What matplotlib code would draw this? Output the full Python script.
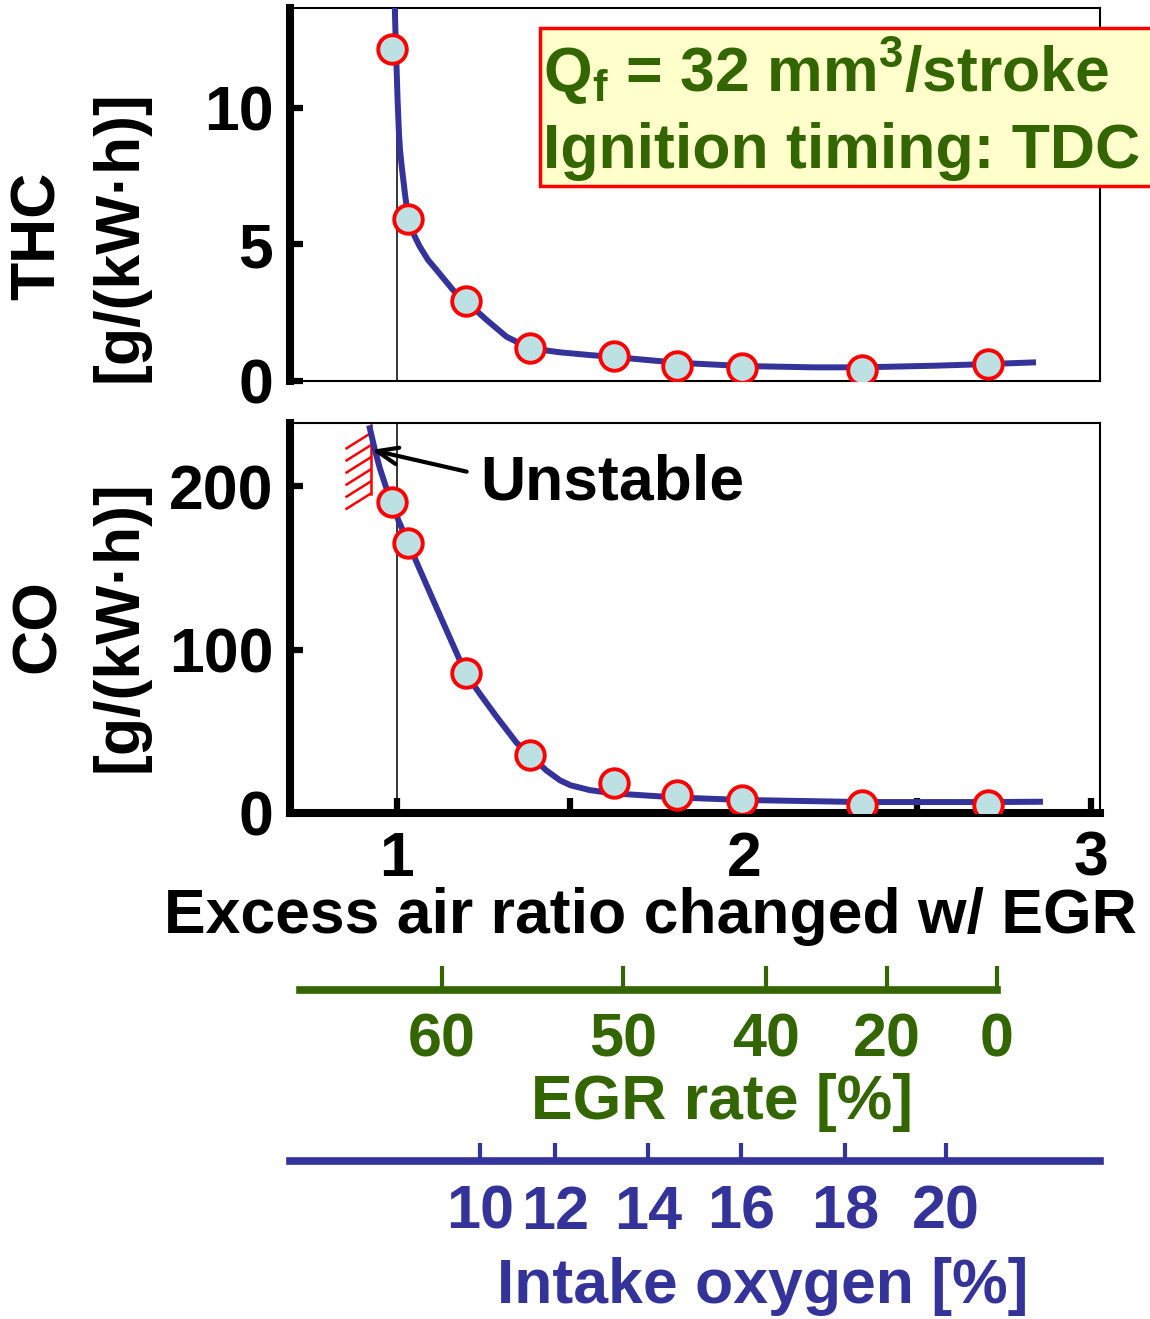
import matplotlib

matplotlib.use("Agg")
import matplotlib.pyplot as plt
from matplotlib.patches import Rectangle

# measured points (excess air ratio lambda)
LAMBDA_PTS = [0.986, 1.033, 1.198, 1.383, 1.625, 1.806, 1.995, 2.339, 2.704]
THC_PTS = [12.16, 5.92, 2.93, 1.20, 0.93, 0.55, 0.49, 0.40, 0.61]
CO_PTS = [190.6, 165.2, 85.5, 35.5, 18.2, 11.0, 8.0, 4.9, 4.9]

# hand-drawn trend curves
THC_FIT_LAMBDA = [0.994, 0.996, 0.999, 1.002, 1.006, 1.009, 1.014, 1.023, 1.033,
                  1.047, 1.066, 1.090, 1.114, 1.162, 1.198, 1.259, 1.316, 1.383,
                  1.470, 1.556, 1.625, 1.807, 1.994, 2.200, 2.340, 2.550, 2.703,
                  2.833]
THC_FIT = [13.66, 12.74, 11.51, 10.29, 9.07, 8.46, 7.85, 6.88, 5.92,
           5.41, 4.92, 4.43, 4.07, 3.33, 2.93, 2.23, 1.62, 1.20,
           1.05, 0.95, 0.88, 0.67, 0.55, 0.50, 0.50, 0.56, 0.62,
           0.68]
CO_FIT_LAMBDA = [0.922, 0.937, 0.951, 0.968, 0.985, 1.004, 1.033, 1.066, 1.124,
                 1.172, 1.198, 1.239, 1.287, 1.345, 1.383, 1.431, 1.470, 1.500,
                 1.556, 1.625, 1.807, 1.994, 2.340, 2.703, 2.853]
CO_FIT = [235.6, 222.0, 211.0, 200.0, 190.6, 179.4, 165.2, 149.0, 121.0,
          98.0, 85.5, 73.0, 59.0, 43.0, 35.5, 26.0, 20.0, 17.0,
          14.0, 12.0, 9.5, 8.0, 6.7, 6.7, 6.9]

# secondary scales expressed at their excess-air-ratio positions
EGR_TICKS_LAMBDA = [1.130, 1.651, 2.063, 2.412, 2.729]
EGR_LABELS = ["60", "50", "40", "20", "0"]
O2_TICKS_LAMBDA = [1.239, 1.455, 1.723, 1.991, 2.291, 2.582]
O2_LABELS = ["10", "12", "14", "16", "18", "20"]

X_TICKS = [1, 1.5, 2, 2.5, 3]
X_TICK_LABELS = ["1", "", "2", "", "3"]

# unstable-combustion limit marker
UNSTABLE_LAMBDA = 0.924
UNSTABLE_CO = (195.5, 237.5)
ARROW_TIP = (0.927, 222.3)
ARROW_TAIL = (1.201, 209.0)

BLUE = "#333399"
GREEN = "#336600"
FACE = "#bde0e3"

W, H = 1150, 1319
plt.rcParams["font.family"] = ["Liberation Sans", "DejaVu Sans"]
plt.rcParams["font.weight"] = "bold"
plt.rcParams["font.size"] = 45
plt.rcParams["mathtext.fontset"] = "custom"
plt.rcParams["mathtext.rm"] = "Liberation Sans:bold"
plt.rcParams["mathtext.bf"] = "Liberation Sans:bold"
plt.rcParams["mathtext.it"] = "Liberation Sans:bold"


def fx(px):
    return px / W


def fy(py):
    return 1 - py / H


fig = plt.figure(figsize=(W / 100, H / 100), dpi=100)
left, right = fx(290), fx(1100)
ax_thc = fig.add_axes([left, fy(381), right - left, fy(8) - fy(381)])
ax_co = fig.add_axes([left, fy(813), right - left, fy(423) - fy(813)])

XLIM = (0.692, 3.026)

for ax in (ax_thc, ax_co):
    ax.set_xlim(*XLIM)
    ax.axvline(1, color="black", lw=1.1, zorder=1)
    for side in ("top", "right", "bottom"):
        ax.spines[side].set_linewidth(1.5)
    ax.spines["left"].set_linewidth(5.8)
    ax.tick_params(axis="y", direction="in", length=9.5, width=4.5, pad=12,
                   labelsize=45)

marker_style = dict(ls="none", marker="o", ms=20.5, mfc=FACE, mec="red",
                    mew=2.8, zorder=4)

# THC panel
ax_thc.plot(THC_FIT_LAMBDA, THC_FIT, color=BLUE, lw=4.3, zorder=3,
            solid_joinstyle="round")
ax_thc.plot(LAMBDA_PTS, THC_PTS, **marker_style)
ax_thc.set_ylim(0, 13.66)
ax_thc.set_yticks([0, 5, 10])
ax_thc.tick_params(axis="x", length=0, labelbottom=False)
ax_thc.text(-0.311, 0.388, "THC", rotation=90, ha="center", va="center",
            transform=ax_thc.transAxes)
ax_thc.text(-0.21, 0.388, "[g/(kW·h)]", rotation=90, ha="center", va="center",
            transform=ax_thc.transAxes)

# CO panel
ax_co.plot(CO_FIT_LAMBDA, CO_FIT, color=BLUE, lw=4.3, zorder=3,
           solid_joinstyle="round")
ax_co.plot(LAMBDA_PTS, CO_PTS, **marker_style)
ax_co.set_ylim(0, 238.8)
ax_co.set_yticks([0, 100, 200])
ax_co.spines["bottom"].set_linewidth(5.8)
ax_co.set_xticks(X_TICKS, X_TICK_LABELS)
ax_co.tick_params(axis="x", direction="in", length=11, width=4.5, pad=12,
                  labelsize=45)
ax_co.text(-0.311, 0.48, "CO", rotation=90, ha="center", va="center",
           transform=ax_co.transAxes)
ax_co.text(-0.21, 0.48, "[g/(kW·h)]", rotation=90, ha="center", va="center",
           transform=ax_co.transAxes)

# unstable region: wall with hatching plus arrow
ax_co.plot([UNSTABLE_LAMBDA, UNSTABLE_LAMBDA], UNSTABLE_CO, color="red", lw=1.8,
           zorder=2)
n_hatch = 6
top = UNSTABLE_CO[1] - 5
step = (UNSTABLE_CO[1] - UNSTABLE_CO[0] - 5) / (n_hatch - 1)
for i in range(n_hatch):
    y0 = top - i * step
    ax_co.plot([UNSTABLE_LAMBDA, UNSTABLE_LAMBDA - 0.069], [y0, y0 - 9.2],
               color="red", lw=1.8, zorder=2)
ax_co.annotate("", xy=ARROW_TIP, xytext=ARROW_TAIL,
               arrowprops=dict(arrowstyle="->,head_length=1.5,head_width=0.6",
                               mutation_scale=10, shrinkA=0, shrinkB=0,
                               color="black", lw=3))
ax_co.text(1.239, 191.7, "Unstable", ha="left", va="baseline", fontsize=45)

fig.text(fx(650), fy(917), "Excess air ratio changed w/ EGR", ha="center",
         va="center", fontsize=45)

# condition box
fig.patches.append(Rectangle((fx(540), fy(186)), fx(1165) - fx(540),
                             fy(28) - fy(186), transform=fig.transFigure,
                             facecolor="#ffffcc", edgecolor="red", lw=2.5))
fig.text(fx(543), fy(92), r"Q$_\mathrm{f}$ = 32 mm$^\mathrm{3}$/stroke",
         color=GREEN, ha="left", va="baseline", fontsize=45)
fig.text(fx(543), fy(168), "Ignition timing: TDC", color=GREEN, ha="left",
         va="baseline", fontsize=45)


def scale_axis(y_px, color, bounds, ticks, labels, ticklen, pad):
    a = fig.add_axes([left, fy(y_px), right - left, 0.0001])
    a.set_xlim(*XLIM)
    a.patch.set_visible(False)
    for side in ("top", "right", "left"):
        a.spines[side].set_visible(False)
    a.spines["bottom"].set_color(color)
    a.spines["bottom"].set_linewidth(5.5)
    a.spines["bottom"].set_bounds(*bounds)
    a.set_yticks([])
    a.set_xticks(ticks, labels)
    a.tick_params(axis="x", direction="in", length=ticklen, width=3,
                  color=color, labelcolor=color, pad=pad, labelsize=44)
    return a


scale_axis(990, GREEN, (0.720, 2.729), EGR_TICKS_LAMBDA, EGR_LABELS, 17, 16)
fig.text(fx(722), fy(1102), "EGR rate [%]", color=GREEN, ha="center",
         va="center", fontsize=45)

scale_axis(1161, BLUE, (0.692, 3.026), O2_TICKS_LAMBDA, O2_LABELS, 13, 17)
fig.text(fx(763), fy(1287), "Intake oxygen [%]", color=BLUE, ha="center",
         va="center", fontsize=45)

fig.savefig("out.png", dpi=100)
